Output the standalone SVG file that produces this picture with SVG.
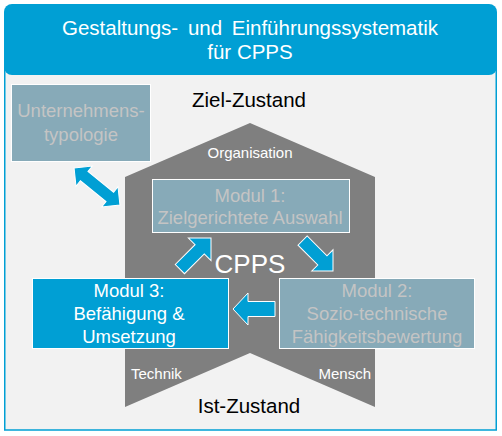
<svg xmlns="http://www.w3.org/2000/svg" width="502" height="436" viewBox="0 0 502 436">
<style>
text{font-family:"Liberation Sans",Arial,sans-serif}
.mod{fill:#87aab8;stroke:#ffffff;stroke-width:1}
.act{fill:#009fd4;stroke:#ffffff;stroke-width:1}
.gt{fill:#c4c4c4;font-size:18.5px;text-anchor:middle}
.wt{fill:#ffffff;font-size:18.5px;text-anchor:middle}
.lab{fill:#ffffff;font-size:15px}
.st{fill:#000000;font-size:20.5px;text-anchor:middle}
.arr{fill:#009fd4;stroke:#ffffff;stroke-width:1;stroke-linejoin:miter}
</style>
<g id="frame">
<rect x="4.75" y="60" width="491.5" height="370" fill="#f2f2f2" stroke="#009fd4" stroke-width="1.5"/>
</g>
<g id="header">
<rect x="4" y="4" width="493" height="71" rx="8" ry="8" fill="#009fd4"/>
<text x="250" y="35" fill="#ffffff" font-size="20.5" text-anchor="middle" word-spacing="4">Gestaltungs- und Einführungssystematik</text>
<text x="250" y="59" fill="#ffffff" font-size="20.5" text-anchor="middle">für CPPS</text>
</g>
<g id="cpps">
<polygon points="250,123 375,177 375,407 250,353 125,407 125,177" fill="#7f7f7f"/>
<text x="250" y="158" class="lab" text-anchor="middle">Organisation</text>
<text x="131" y="379" class="lab">Technik</text>
<text x="371" y="379" class="lab" text-anchor="end">Mensch</text>
<text x="250" y="273" fill="#ffffff" font-size="26" text-anchor="middle">CPPS</text>
</g>
<g id="ziel-zustand"><text x="249" y="107" class="st">Ziel-Zustand</text></g>
<g id="ist-zustand"><text x="249" y="413" class="st">Ist-Zustand</text></g>
<g id="unternehmenstypologie">
<rect x="11.5" y="84.5" width="139" height="77" class="mod"/>
<text x="81" y="117" class="gt">Unternehmens-</text>
<text x="81" y="141" class="gt">typologie</text>
</g>
<g id="modul1">
<rect x="152.5" y="179.5" width="197" height="53" class="mod"/>
<text x="250" y="202" class="gt">Modul 1:</text>
<text x="250" y="224" class="gt">Zielgerichtete Auswahl</text>
</g>
<g id="modul2">
<rect x="279.5" y="278.5" width="195" height="70" class="mod"/>
<text x="377" y="297" class="gt">Modul 2:</text>
<text x="377" y="320" class="gt">Sozio-technische</text>
<text x="377" y="343" class="gt">Fähigkeitsbewertung</text>
</g>
<g id="modul3">
<rect x="32.5" y="278.5" width="196" height="70" class="act"/>
<text x="129" y="297" class="wt">Modul 3:</text>
<text x="129" y="320" class="wt">Befähigung &amp;</text>
<text x="129" y="343" class="wt">Umsetzung</text>
</g>
<g id="connectors">
<polygon class="arr" transform="translate(97,186.5) rotate(39)" points="-29.5,0 -16.5,-13 -16.5,-6 16.5,-6 16.5,-13 29.5,0 16.5,13 16.5,6 -16.5,6 -16.5,13"/>
<polygon class="arr" transform="translate(211,238) rotate(-45)" points="0,0 -16,-16 -16,-6.5 -44,-6.5 -44,6.5 -16,6.5 -16,16"/>
<polygon class="arr" transform="translate(333,271) rotate(45)" points="0,0 -15,-15 -15,-6.5 -43,-6.5 -43,6.5 -15,6.5 -15,15"/>
<polygon class="arr" points="233,309 248,293 248,301.5 275,301.5 275,316.5 248,316.5 248,325"/>
</g>
</svg>
